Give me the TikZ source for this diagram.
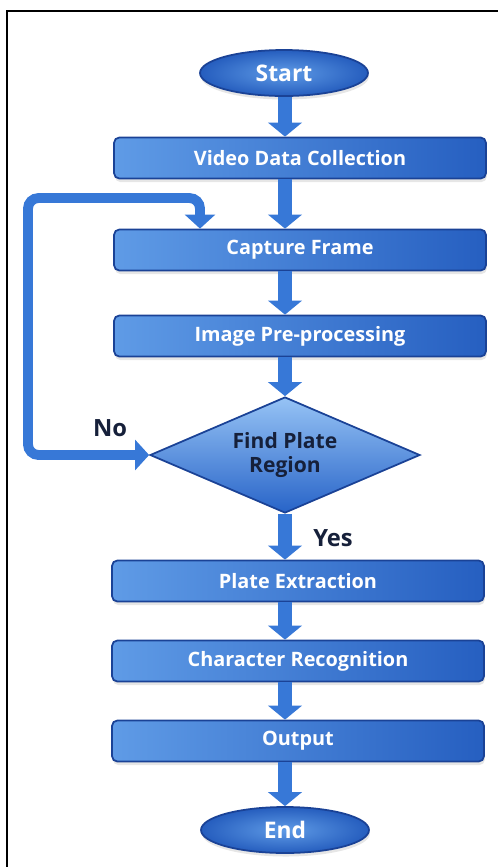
\documentclass[tikz,border=0pt]{standalone}
\usepackage{fontspec}
\setmainfont{Open Sans}
\usepackage{xcolor}
\definecolor{fcdark}{RGB}{26,66,150}
\definecolor{fcmid}{RGB}{40,100,200}
\definecolor{fclight}{RGB}{95,155,230}
\definecolor{fcpale}{RGB}{150,195,245}
\definecolor{fcarrow}{RGB}{55,120,215}
\definecolor{fctext}{RGB}{22,32,58}
\usetikzlibrary{arrows.meta,positioning,shapes.geometric,shadows}

\begin{document}
\begin{tikzpicture}[x=0.02cm, y=-0.02cm,
  procbox/.style={draw=fcdark, line width=1pt, left color=fclight, right color=fcmid!85!fcdark, rounded corners=3pt, minimum width=7.44cm, minimum height=0.82cm, font=\fontsize{11.3}{13}\selectfont\bfseries, text=white, drop shadow={opacity=0.2, shadow xshift=0.5pt, shadow yshift=-2pt}},
  termnode/.style={ellipse, draw=fcdark, line width=1pt, inner color=fclight, outer color=fcmid!80!fcdark, minimum width=3.36cm, minimum height=0.92cm, font=\fontsize{13}{15}\selectfont\bfseries, text=white, drop shadow={opacity=0.2, shadow xshift=0.5pt, shadow yshift=-2pt}},
  decnode/.style={diamond, aspect=2.33, draw=fcdark, line width=1pt, top color=fcpale, bottom color=fcmid, minimum width=5.4cm, minimum height=2.32cm, inner sep=0pt, align=center, font=\fontsize{12}{14}\selectfont\bfseries, text=fctext},
  flowarrow/.style={draw=fcarrow, line width=8pt, -{Triangle[width=19pt,length=8pt]}},
  looparrow/.style={draw=fcarrow, line width=5.6pt, rounded corners=6pt, {Triangle[width=17pt,length=8pt]}-{Triangle[width=17pt,length=8pt]}},
  answer/.style={font=\fontsize{13.5}{15}\selectfont\bfseries, text=fctext}]
  \useasboundingbox (0,0) rectangle (498,867);
  \draw[line width=1.2pt] (7,867) |- (498,11);

  \node[termnode] (start) at (284,73) {Start};
  \node[procbox] (video) at (300,158) {Video Data Collection};
  \node[procbox] (capture) at (300,250) {Capture Frame};
  \node[procbox] (prep) at (300,336) {Image Pre-processing};
  \node[decnode] (find) at (285,455) {Find Plate\\Region};
  \node[procbox] (plate) at (298,581) {Plate Extraction};
  \node[procbox] (charrec) at (298,661) {Character Recognition};
  \node[procbox] (output) at (298,741) {Output};
  \node[termnode] (stop) at (285,830) {End};

  \node[answer] (no) at (110,428) {No};
  \node[answer] (yes) at (333,538) {Yes};

  \coordinate (loopleft) at (28,198);
  \coordinate (loopturn) at (200,198);

  \draw[flowarrow] (start.south -| find) -- (video.north -| find);
  \draw[flowarrow] (video.south -| find) -- (capture.north -| find);
  \draw[flowarrow] (capture.south -| find) -- (prep.north -| find);
  \draw[flowarrow] (prep.south -| find) -- (find.north);
  \draw[flowarrow] (find.south) -- (plate.north -| find);
  \draw[flowarrow] (plate.south -| find) -- (charrec.north -| find);
  \draw[flowarrow] (charrec.south -| find) -- (output.north -| find);
  \draw[flowarrow] (output.south -| find) -- (stop.north);
  \draw[looparrow] (find.west) -- (find.west -| loopleft) -- (loopleft) -- (loopturn) -- (loopturn |- capture.north);
\end{tikzpicture}
\end{document}
